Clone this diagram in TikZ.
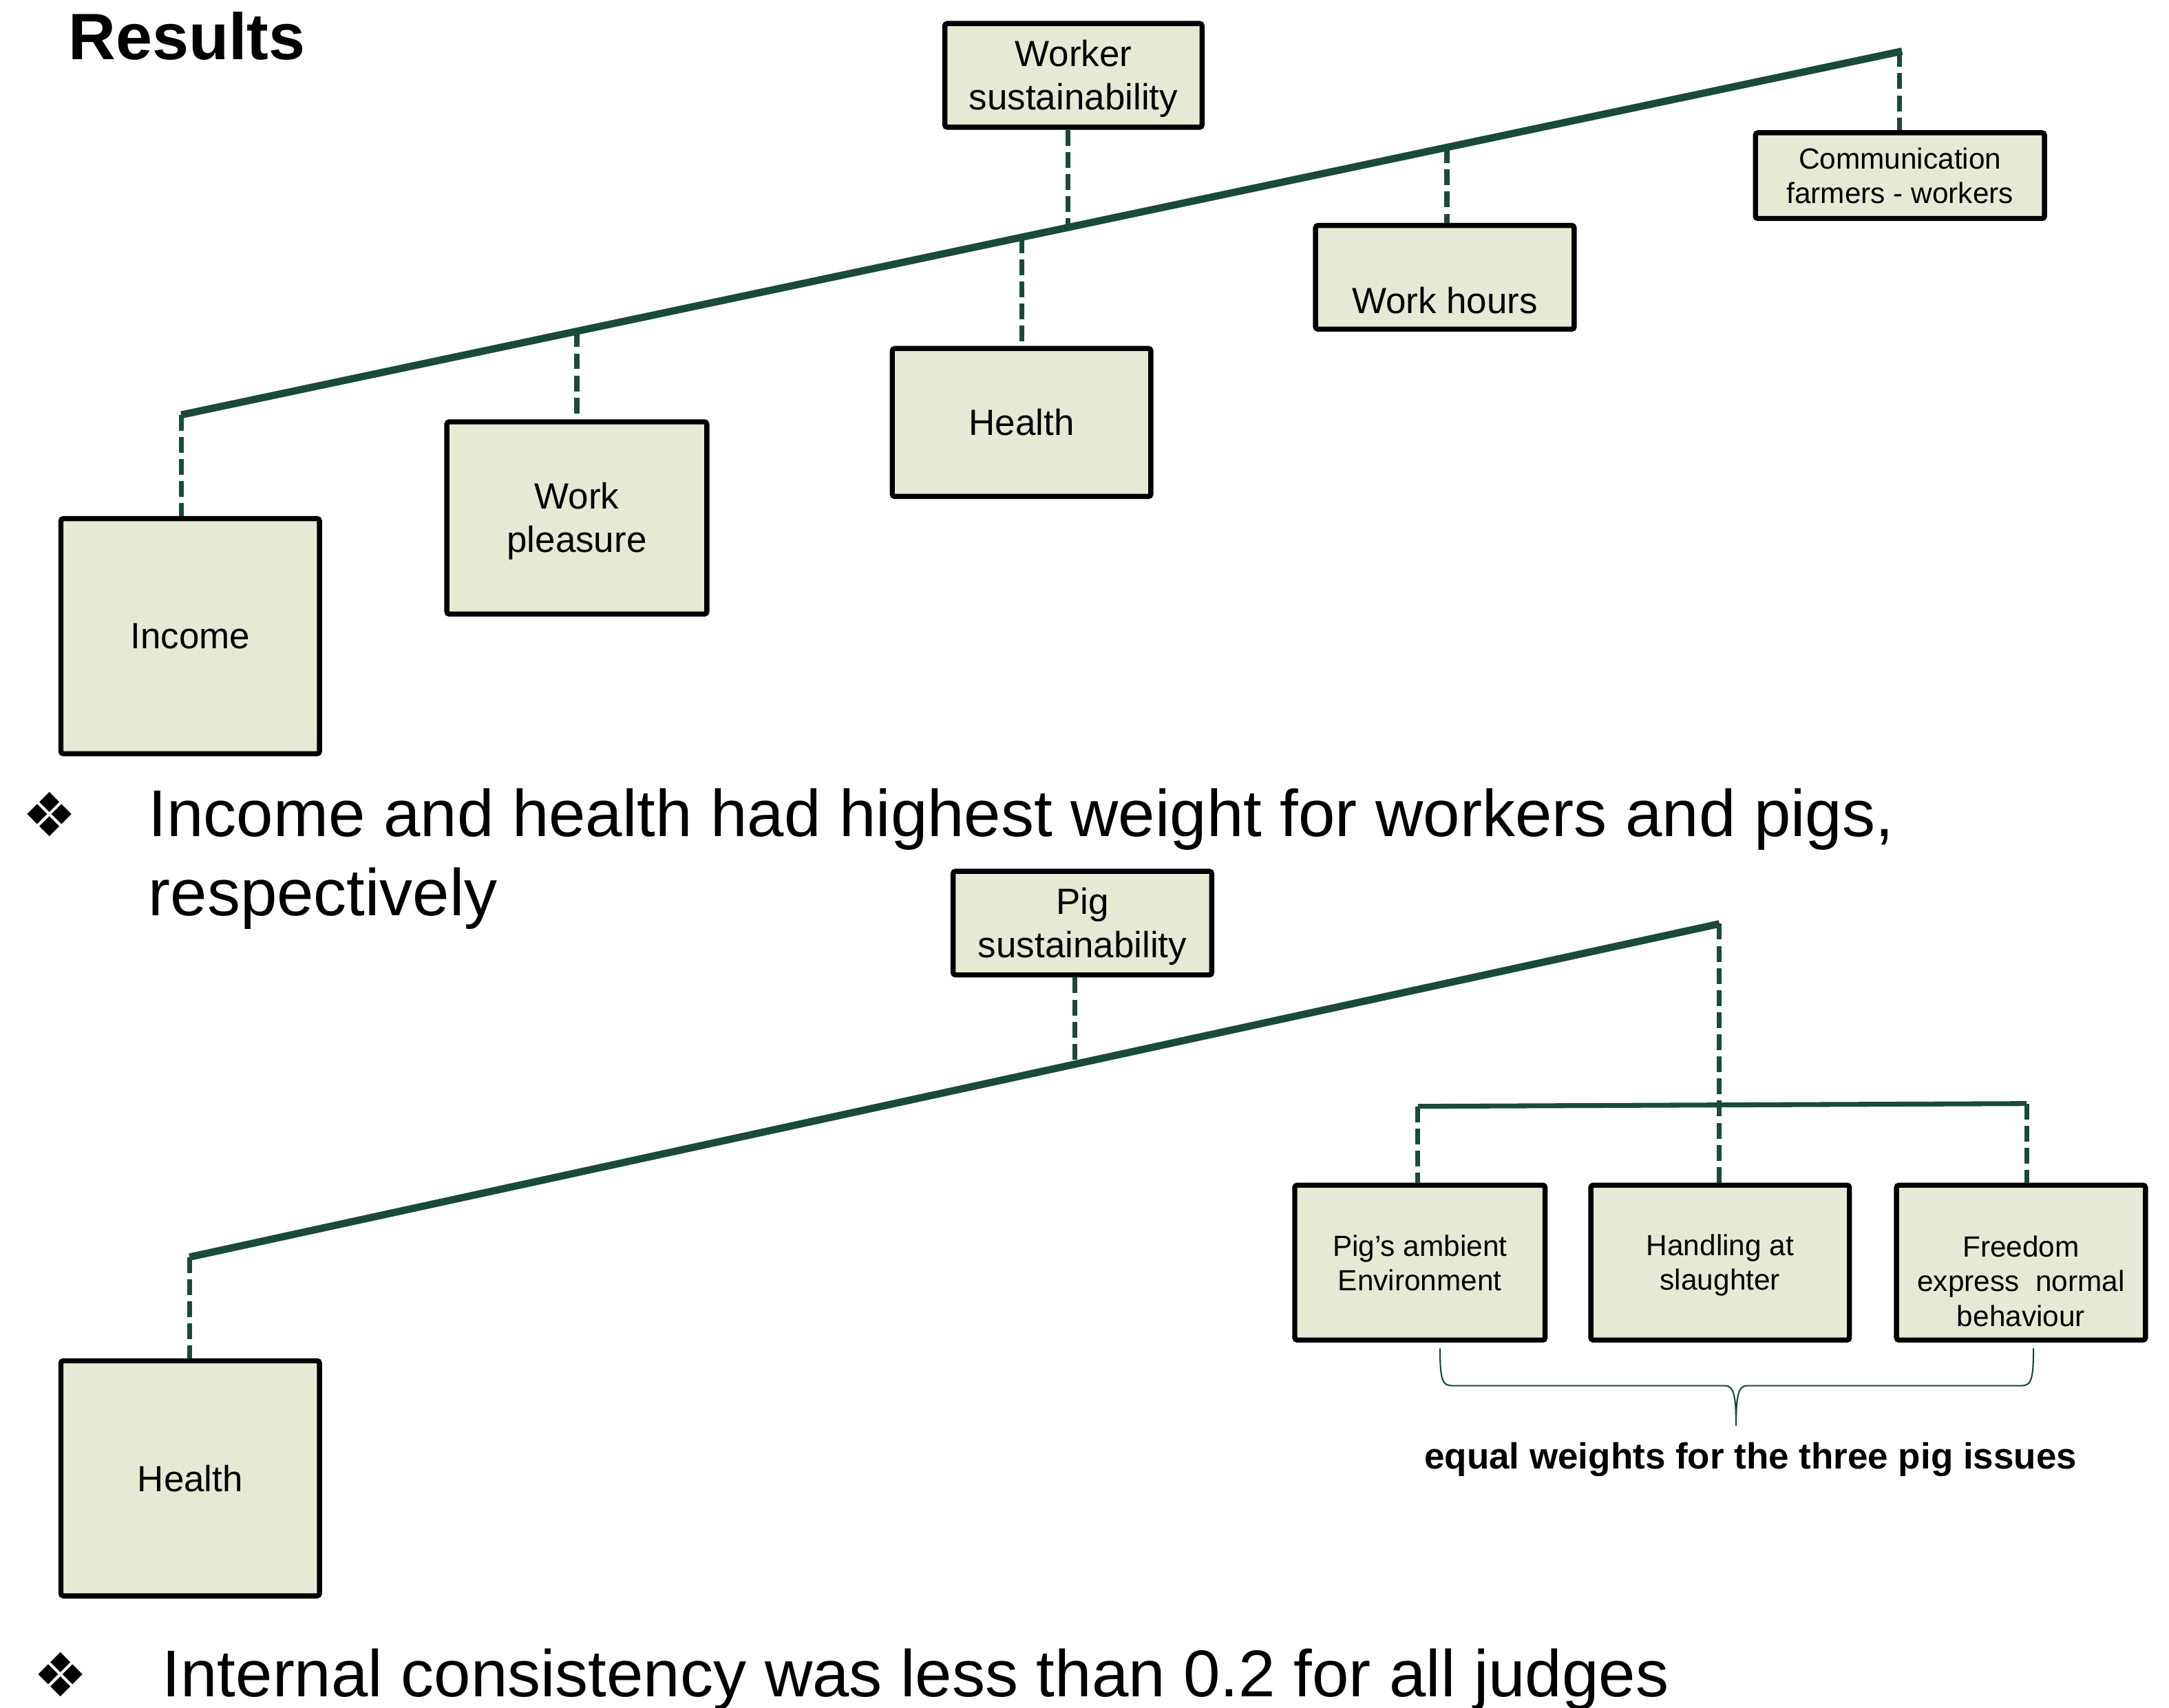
\documentclass[tikz,border=0pt]{standalone}
\usepackage{fontspec}
\setmainfont{Liberation Sans}
\newfontfamily\dejavu{DejaVu Sans}
\usetikzlibrary{calc}
\definecolor{lgreen}{RGB}{26,74,56}
\definecolor{boxfill}{RGB}{230,233,212}
\newcommand\lowerlines[2]{\raisebox{-#1}[\height][\depth]{\begin{tabular}{@{}c@{}}#2\end{tabular}}}
\tikzset{
  crit/.style={draw=black, line width=2.1pt, fill=boxfill, rounded corners=1pt, inner sep=0pt, align=center},
  bigtxt/.style={font=\fontsize{15}{17.9}\selectfont},
  smalltxt/.style={font=\fontsize{12}{14.2}\selectfont},
  conn/.style={draw=lgreen, line width=2pt, dash pattern=on 6.5pt off 2.6pt},
  mainline/.style={draw=lgreen, line width=3pt, line cap=butt},
  subline/.style={draw=lgreen, line width=2pt},
  bracepath/.style={draw=lgreen, line width=0.6pt},
  bigtext/.style={font=\fontsize{27.2}{32.4}\selectfont, inner sep=0pt, align=left},
  bulletglyph/.style={font=\dejavu\fontsize{25}{28}\selectfont, inner sep=0pt}
}
\begin{document}
\begin{tikzpicture}[x=0.02cm, y=-0.02cm]
\useasboundingbox[fill=white] (0,0) rectangle (1568,1235);

% title
\node[font=\bfseries\fontsize{27}{30}\selectfont, inner sep=0pt, anchor=base west] (title) at (49,43) {Results};

% ---------- worker tree ----------
\node[crit, bigtxt, minimum width=3.72cm, minimum height=1.5cm] (ws) at (776,54.5) {\lowerlines{0.06cm}{Worker\\sustainability}};
\node[crit, smalltxt, minimum width=4.18cm, minimum height=1.24cm] (comm) at (1373.5,127) {Communication\\farmers - workers};
\node[crit, bigtxt, minimum width=3.74cm, minimum height=1.5cm] (hours) at (1044.5,200.5) {\raisebox{-0.33cm}[\height][\depth]{Work hours}};
\node[crit, bigtxt, minimum width=3.74cm, minimum height=2.14cm] (whealth) at (738.5,305.5) {Health};
\node[crit, bigtxt, minimum width=3.76cm, minimum height=2.78cm] (pleasure) at (417,374.5) {\lowerlines{0.06cm}{Work\\pleasure}};
\node[crit, bigtxt, minimum width=3.74cm, minimum height=3.4cm] (income) at (137.5,460) {Income};

\coordinate (wl) at (131,300);
\coordinate (wr) at (1375,37);
\coordinate (wp) at ($(wl)!0.2299!(wr)$);
\coordinate (wh) at ($(wl)!0.4887!(wr)$);
\coordinate (wt) at ($(wl)!0.5153!(wr)$);
\coordinate (wo) at ($(wl)!0.7355!(wr)$);

\draw[conn] (wl) -- (wl |- income.north);
\draw[conn] (wp) -- (wp |- pleasure.north);
\draw[conn] (wh) -- (wh |- whealth.north);
\draw[conn] (wt |- ws.south) -- (wt);
\draw[conn] (wo) -- (wo |- hours.north);
\draw[conn] ($(wr)+(-2,0)$) -- ($(wr |- comm.north)+(-2,0)$);
\draw[mainline] (wl) -- (wr);

% bullet 1
\node[bulletglyph, anchor=base west] (bul1) at (16,605) {❖};
\node[bigtext, anchor=base west] (txt1) at (107,662) {Income and health had highest weight for workers and pigs,\\respectively};

% ---------- pig tree ----------
\node[crit, bigtxt, minimum width=3.74cm, minimum height=1.5cm] (ps) at (782.5,667.5) {\lowerlines{0.06cm}{Pig\\sustainability}};
\node[crit, smalltxt, minimum width=3.62cm, minimum height=2.24cm] (amb) at (1026.5,913) {\lowerlines{0.06cm}{Pig’s ambient\\Environment}};
\node[crit, smalltxt, minimum width=3.74cm, minimum height=2.24cm] (hand) at (1243.5,913) {\lowerlines{0.05cm}{Handling at\\slaughter}};
\node[crit, smalltxt, minimum width=3.6cm, minimum height=2.24cm] (free) at (1461,913) {\lowerlines{0.32cm}{Freedom\\express\ \ normal\\behaviour}};
\node[crit, bigtxt, minimum width=3.74cm, minimum height=3.4cm] (phealth) at (137.5,1069) {Health};

\coordinate (pl) at (137,909);
\coordinate (pr) at (1243,668);
\coordinate (pt) at ($(pl)!0.5787!(pr)$);
\coordinate (hl) at (1025,800);
\coordinate (hr) at (1465,798);

\draw[conn] (pl) -- (pl |- phealth.north);
\draw[conn] (pt |- ps.south) -- (pt);
\draw[conn] (pr) -- (pr |- hand.north);
\draw[conn] (hl) -- (hl |- amb.north);
\draw[conn] (hr) -- (hr |- free.north);
\draw[subline] (hl) -- (hr);
\draw[mainline] (pl) -- (pr);

% brace
\coordinate (bl) at (1041,975);
\coordinate (bm) at (1255,1031);
\coordinate (br) at (1470,975);
\draw[bracepath] (bl) .. controls (1041,999) and (1043,1002) .. (1050,1002) -- (1247,1002)
  .. controls (1253,1002) and (1255,1008) .. (bm)
  .. controls (1255,1008) and (1257,1002) .. (1263,1002) -- (1461,1002)
  .. controls (1468,1002) and (1470,999) .. (br);
\node[font=\bfseries\fontsize{15}{18}\selectfont, inner sep=0pt, anchor=base] (eq) at (1265.5,1062) {equal weights for the three pig issues};

% bullet 2
\node[bulletglyph, anchor=base west] (bul2) at (24,1227) {❖};
\node[bigtext, anchor=base west] (txt2) at (117,1227) {Internal consistency was less than 0.2 for all judges};
\end{tikzpicture}
\end{document}
